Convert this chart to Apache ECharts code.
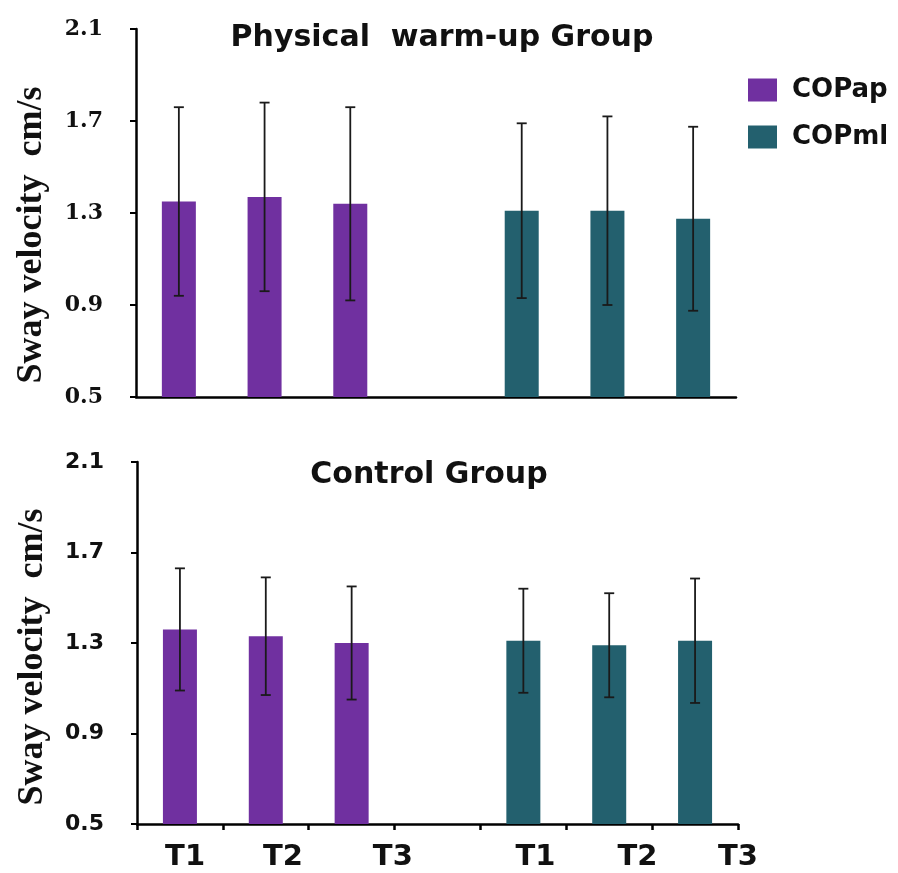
<!DOCTYPE html>
<html>
<head>
<meta charset="utf-8">
<script src="https://cdn.jsdelivr.net/npm/echarts@6/dist/echarts.min.js"></script>
<style>
  html, body { margin: 0; padding: 0; background: #ffffff; }
  #chart { width: 898px; height: 873px; }
</style>
</head>
<body>
<div id="chart"></div>
<script>
// ---- Data ----
const categories = ['COPap T1', 'COPap T2', 'COPap T3', '', 'COPml T1', 'COPml T2', 'COPml T3'];
const tickLabels = ['T1', 'T2', 'T3', 'T1', 'T2', 'T3'];
const seriesNames = ['COPap', 'COPml'];
const panelTitles = ['Physical  warm-up Group', 'Control Group'];
const yAxisTitle = 'Sway velocity  cm/s';

const warmupApMean = [1.35, 1.37, 1.34];
const warmupApSD   = [0.41, 0.41, 0.42];
const warmupMlMean = [1.31, 1.31, 1.275];
const warmupMlSD   = [0.38, 0.41, 0.40];

const controlApMean = [1.36, 1.33, 1.30];
const controlApSD   = [0.27, 0.26, 0.25];
const controlMlMean = [1.31, 1.29, 1.31];
const controlMlSD   = [0.23, 0.23, 0.275];

const yMin = 0.5, yMax = 2.1, yStep = 0.4;

// ---- Layout / style (not data) ----
const labelSlots = [0.56, 1.70, 2.98, 4.64, 5.83, 7.0]; // where the tick labels sit along the bottom axis
const purple = '#7030A0';
const teal = '#23606E';

const chart = echarts.init(document.getElementById('chart'), null, { renderer: 'canvas' });

function padAp(arr) { return arr.concat(['-', '-', '-', '-']); }
function padMl(arr) { return ['-', '-', '-', '-'].concat(arr); }
function errData(apM, apS, mlM, mlS) {
  const out = [];
  apM.forEach((m, i) => out.push([i, m, apS[i]]));
  mlM.forEach((m, i) => out.push([i + 4, m, mlS[i]]));
  return out;
}

function renderErr(params, api) {
  const x = api.value(0), m = api.value(1), s = api.value(2);
  const hi = api.coord([x, m + s]);
  const lo = api.coord([x, m - s]);
  const cap = 5;
  const st = { stroke: '#1a1a1a', lineWidth: 1.8 };
  return {
    type: 'group',
    children: [
      { type: 'line', shape: { x1: hi[0], y1: hi[1], x2: lo[0], y2: lo[1] }, style: st },
      { type: 'line', shape: { x1: hi[0] - cap, y1: hi[1], x2: hi[0] + cap, y2: hi[1] }, style: st },
      { type: 'line', shape: { x1: lo[0] - cap, y1: lo[1], x2: lo[0] + cap, y2: lo[1] }, style: st }
    ]
  };
}

function yAxisFor(gridIndex, fontFamily, namePad) {
  return {
    type: 'value', gridIndex: gridIndex,
    min: yMin, max: yMax, interval: yStep,
    axisLine: { show: true, lineStyle: { color: '#000', width: 2.5 } },
    axisTick: { show: true, inside: false, length: 6, lineStyle: { color: '#000', width: 2 } },
    splitLine: { show: false },
    axisLabel: {
      margin: 33, color: '#111', fontFamily: fontFamily, fontWeight: 'bold', fontSize: 22,
      formatter: v => v.toFixed(1)
    },
    name: yAxisTitle, nameLocation: 'middle', nameRotate: 90, nameGap: 86,
    nameTextStyle: {
      fontFamily: 'Liberation Serif', fontWeight: 'bold', fontSize: 36, color: '#111',
      padding: [0, namePad, 0, 0]
    }
  };
}

const option = {
  backgroundColor: '#ffffff',
  animation: false,
  title: [
    { text: panelTitles[0], left: 437, top: 18, textAlign: 'center',
      textStyle: { fontFamily: 'DejaVu Sans', fontWeight: 'bold', fontSize: 30, color: '#111' } },
    { text: panelTitles[1], left: 424, top: 455, textAlign: 'center',
      textStyle: { fontFamily: 'DejaVu Sans', fontWeight: 'bold', fontSize: 30, color: '#111' } }
  ],
  legend: {
    data: seriesNames, orient: 'vertical', left: 743, top: 72,
    icon: 'rect', itemWidth: 29, itemHeight: 23, itemGap: 21,
    textStyle: { fontFamily: 'DejaVu Sans', fontWeight: 'bold', fontSize: 26, color: '#111', padding: [0, 0, 0, 10] }
  },
  grid: [
    { left: 136, top: 29, width: 600, height: 368 },
    { left: 137, top: 462, width: 601, height: 362 }
  ],
  xAxis: [
    { type: 'category', gridIndex: 0, data: categories, boundaryGap: true,
      axisLine: { show: true, lineStyle: { color: '#000', width: 2.5 } },
      axisTick: { show: false }, axisLabel: { show: false }, splitLine: { show: false } },
    { type: 'category', gridIndex: 1, data: categories, boundaryGap: true,
      axisLine: { show: true, lineStyle: { color: '#000', width: 2.5 } },
      axisTick: { show: true, length: 6, lineStyle: { color: '#000', width: 2.5 } },
      axisLabel: { show: false }, splitLine: { show: false } },
    { type: 'value', gridIndex: 1, min: 0, max: 7, position: 'bottom',
      axisLine: { show: false }, axisTick: { show: false }, splitLine: { show: false },
      axisLabel: {
        customValues: labelSlots, margin: 19,
        fontFamily: 'DejaVu Sans', fontWeight: 'bold', fontSize: 29, color: '#111',
        formatter: function (v) {
          let best = 0, bd = Infinity;
          labelSlots.forEach((p, i) => { const d = Math.abs(p - v); if (d < bd) { bd = d; best = i; } });
          return tickLabels[best];
        }
      } }
  ],
  yAxis: [
    yAxisFor(0, 'DejaVu Serif', 44),
    yAxisFor(1, 'DejaVu Sans', 28)
  ],
  series: [
    { name: seriesNames[0], type: 'bar', xAxisIndex: 0, yAxisIndex: 0, data: padAp(warmupApMean),
      barWidth: 34, barGap: '-100%', itemStyle: { color: purple } },
    { name: seriesNames[1], type: 'bar', xAxisIndex: 0, yAxisIndex: 0, data: padMl(warmupMlMean),
      barWidth: 34, barGap: '-100%', itemStyle: { color: teal } },
    { name: seriesNames[0], type: 'bar', xAxisIndex: 1, yAxisIndex: 1, data: padAp(controlApMean),
      barWidth: 34, barGap: '-100%', itemStyle: { color: purple } },
    { name: seriesNames[1], type: 'bar', xAxisIndex: 1, yAxisIndex: 1, data: padMl(controlMlMean),
      barWidth: 34, barGap: '-100%', itemStyle: { color: teal } },
    { type: 'custom', xAxisIndex: 0, yAxisIndex: 0, z: 5, renderItem: renderErr,
      encode: { x: 0, y: 1 }, data: errData(warmupApMean, warmupApSD, warmupMlMean, warmupMlSD) },
    { type: 'custom', xAxisIndex: 1, yAxisIndex: 1, z: 5, renderItem: renderErr,
      encode: { x: 0, y: 1 }, data: errData(controlApMean, controlApSD, controlMlMean, controlMlSD) }
  ]
};

chart.setOption(option);
</script>
</body>
</html>
